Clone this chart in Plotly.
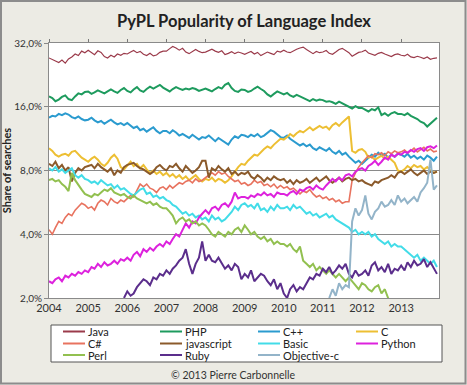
import pandas as pd
import plotly.graph_objects as go

months = pd.date_range("2004-01-01", periods=120, freq="MS")
N = None

java = [
    27.2, 26.8, 26.3, 25.9, 26.6, 25.7, 26.9, 27.5, 28.4, 27.9, 29.3, 28.8,
    29.6, 28.7, 28.2, 29.4, 28.9, 27.6, 27.2, 28.0, 27.5, 28.4, 28.0, 28.6,
    28.4, 29.0, 29.5, 28.8, 29.2, 28.3, 27.9, 28.6, 27.8, 28.1, 28.9, 29.3,
    29.3, 30.1, 30.8, 30.3, 29.6, 30.2, 29.0, 28.5, 29.1, 29.8, 29.2, 28.8,
    29.0, 29.5, 29.9, 29.3, 28.9, 29.4, 28.2, 28.6, 29.1, 28.5, 29.0, 28.7,
    28.3, 28.8, 29.2, 28.4, 28.9, 27.9, 28.5, 29.0, 28.6, 28.2, 29.3, 29.0,
    29.6, 29.0, 28.8, 29.4, 29.9, 30.3, 30.6, 29.8, 29.0, 28.5, 29.2, 28.8,
    29.0, 29.5, 28.6, 28.3, 29.0, 29.8, 30.2, 29.4, 28.8, 27.7, 28.3, 28.9,
    29.1, 29.6, 28.7, 28.3, 28.0, 28.6, 28.9, 28.4, 27.9, 27.6, 28.2, 28.4,
    28.0, 27.8, 28.3, 27.5, 27.3, 27.7, 27.4, 27.0, 27.5, 26.8, 27.1, 27.2,
]
php = [
    17.9, 17.6, 17.0, 17.3, 17.8, 18.1, 17.4, 17.2, 17.9, 18.5, 18.3, 18.8,
    18.9, 18.4, 18.7, 19.1, 18.8, 18.5, 18.9, 19.3, 18.9, 18.6, 19.2, 19.6,
    19.0, 18.7, 19.3, 19.8, 19.1, 18.8, 19.4, 19.9, 19.5, 19.9, 20.3, 19.7,
    19.2, 18.9, 19.4, 19.8, 19.5, 19.2, 19.5, 19.3, 19.6, 19.4, 19.0, 19.3,
    19.5, 19.2, 18.9, 19.4, 19.8, 19.5, 20.3, 20.7, 19.6, 19.0, 18.8, 19.3,
    19.2, 18.8, 19.0, 19.5, 19.9, 19.4, 19.0, 18.3, 17.9, 18.4, 18.9, 18.6,
    18.3, 18.6, 18.1, 17.8, 18.2, 17.9, 17.6, 17.3, 17.0, 17.4, 17.1, 17.3,
    17.2, 16.9, 17.0, 16.8, 16.5, 16.9, 16.6, 16.2, 16.0, 15.7, 16.1, 15.8,
    15.8, 15.5, 15.2, 15.6, 15.4, 15.9, 14.6, 14.9, 14.5, 14.9, 15.1, 14.8,
    14.8, 14.6, 14.9, 14.5, 14.3, 14.0, 13.6, 13.4, 12.9, 13.3, 13.8, 14.2,
]
cpp = [
    14.2, 14.5, 14.4, 14.8, 14.6, 14.9, 14.7, 14.3, 14.1, 14.4, 14.0, 13.8,
    13.9, 14.2, 13.8, 13.5, 13.7, 13.3, 13.6, 13.9, 13.5, 13.2, 13.4, 13.1,
    13.4, 13.0, 12.7, 12.9, 12.4, 12.6, 12.2, 12.5, 12.8, 12.3, 12.0, 12.3,
    12.3, 12.0, 12.4, 12.1, 11.7, 11.9, 11.6, 11.4, 11.8, 11.5, 11.2, 11.5,
    11.4, 11.7, 11.3, 11.0, 11.4, 11.1, 10.8, 10.6, 11.2, 11.6, 11.4, 11.8,
    11.7, 11.5, 11.8, 11.6, 11.9, 11.5, 11.7, 12.0, 12.4, 12.2, 11.8, 11.5,
    11.4, 11.7, 11.3, 11.0, 10.8, 10.5, 10.7, 10.4, 10.6, 10.2, 10.0, 10.3,
    10.1, 9.9, 10.2, 9.8, 9.6, 9.9, 9.5, 9.7, 9.3, 9.0, 8.7, 8.9,
    8.6, 8.9, 9.2, 9.5, 9.3, 9.7, 9.4, 9.6, 9.2, 9.5, 9.3, 9.6,
    9.5, 9.3, 9.6, 9.2, 9.4, 9.1, 9.3, 9.0, 9.4, 9.2, 8.9, 9.3,
]
c_lang = [
    10.2, 9.9, 9.5, 9.3, 9.5, 9.6, 9.4, 9.8, 9.9, 9.5, 9.2, 9.0,
    8.8, 9.1, 9.3, 9.0, 8.6, 8.4, 8.7, 9.2, 9.5, 9.1, 8.3, 8.1,
    8.5, 8.8, 8.4, 8.6, 8.2, 8.5, 8.1, 7.8, 8.0, 7.7, 7.9, 7.6,
    7.8, 7.5, 7.7, 7.4, 7.6, 7.3, 7.5, 7.2, 7.4, 7.6, 7.3, 7.1,
    7.3, 7.2, 7.4, 7.1, 7.3, 7.2, 7.0, 7.2, 7.5, 7.9, 8.3, 8.6,
    8.5, 8.9, 9.2, 9.5, 9.4, 9.8, 10.1, 10.4, 10.2, 10.6, 11.0, 11.3,
    11.2, 11.5, 11.9, 11.6, 12.0, 12.3, 12.1, 12.5, 12.8, 12.4, 12.7, 13.0,
    12.7, 12.9, 12.5, 13.1, 13.4, 13.0, 13.5, 13.9, 14.4, 9.9, 9.7, 10.0,
    10.1, 9.8, 9.2, 9.3, 9.0, 9.2, 9.4, 9.1, 9.3, 9.0, 8.7, 8.0,
    7.9, 8.1, 8.4, 8.2, 8.5, 8.3, 8.4, 8.1, 8.3, 8.0, 7.8, 7.9,
]
csharp = [
    4.2, 4.0, 4.3, 4.6, 4.5, 4.8, 5.0, 4.9, 5.2, 5.4, 5.6, 5.5,
    5.3, 5.4, 5.2, 5.6, 5.8, 5.7, 5.5, 5.9, 5.7, 5.6, 5.8, 5.7,
    5.9, 6.1, 6.0, 6.4, 6.9, 6.7, 6.9, 6.6, 6.5, 6.3, 6.6, 6.7,
    6.5, 6.8, 6.6, 6.8, 7.0, 6.9, 7.1, 7.2, 7.0, 7.3, 7.1, 7.2,
    7.4, 7.6, 7.8, 7.6, 7.9, 7.7, 7.8, 7.5, 7.3, 7.1, 7.2, 6.9,
    7.0, 6.8, 6.9, 7.2, 7.0, 7.1, 6.8, 6.9, 6.7, 6.9, 6.6, 6.8,
    6.6, 6.7, 6.5, 6.6, 6.4, 6.2, 6.4, 6.3, 6.5, 6.2, 6.0, 6.1,
    5.9, 6.0, 5.8, 5.9, 5.7, 5.8, 5.6, 5.7, 5.7, 7.2, 7.8, 8.3,
    8.7, 9.1, 9.4, 9.2, 9.6, 9.5, 9.7, 9.4, 9.8, 9.6, 9.9, 9.7,
    9.8, 10.0, 9.7, 9.9, 10.2, 9.8, 10.0, 10.3, 9.9, 10.1, 9.8, 9.9,
]
javascript = [
    8.6, 8.4, 8.8, 8.2, 8.5, 8.0, 8.3, 7.1, 7.8, 8.2, 8.0, 8.3,
    8.4, 8.5, 8.2, 8.6, 8.3, 8.1, 7.9, 8.2, 7.6, 8.0, 7.8, 8.3,
    8.5, 8.6, 8.7, 8.4, 8.2, 8.1, 7.9, 7.7, 7.9, 8.3, 8.5, 8.2,
    8.0, 8.4, 8.3, 8.6, 8.2, 7.9, 8.4, 8.1, 7.8, 8.0, 8.3, 8.9,
    8.9, 7.4, 8.2, 8.0, 8.4, 8.1, 7.9, 8.2, 7.7, 7.9, 7.6, 7.8,
    7.7, 7.9, 7.5, 7.3, 7.6, 7.4, 7.1, 7.4, 7.2, 7.5, 7.3, 7.2,
    7.3, 7.0, 7.2, 6.9, 7.2, 7.0, 7.1, 7.3, 7.0, 7.2, 7.4, 7.1,
    7.3, 7.5, 7.2, 7.0, 7.2, 7.4, 7.1, 7.3, 7.4, 7.2, 7.3, 7.1,
    7.2, 7.0, 6.9, 6.8, 7.1, 7.0, 7.2, 7.3, 7.4, 7.6, 7.4, 7.8,
    7.9, 7.7, 7.9, 8.1, 7.8, 7.6, 7.8, 8.0, 7.7, 7.9, 7.8, 7.9,
]
basic = [
    8.2, 8.0, 8.3, 7.9, 8.1, 7.8, 8.0, 8.2, 7.6, 7.4, 7.6, 7.3,
    7.2, 7.0, 7.1, 6.9, 7.2, 7.0, 6.8, 6.9, 6.6, 6.8, 6.5, 6.6,
    6.4, 6.2, 6.1, 6.3, 6.5, 6.6, 6.2, 6.3, 6.0, 6.1, 5.9, 6.0,
    5.8, 5.7, 5.5, 5.4, 5.2, 5.0, 5.1, 4.9, 5.0, 4.8, 4.9, 4.7,
    4.8, 4.6, 4.9, 4.7, 4.8, 4.6, 4.7, 4.9, 5.1, 5.4, 5.2, 5.5,
    5.6, 5.4, 5.5, 5.3, 5.6, 5.2, 5.3, 5.1, 5.4, 5.2, 5.5, 5.3,
    5.3, 5.4, 5.2, 5.5, 5.3, 5.4, 5.2, 5.0, 5.1, 4.9, 5.0, 4.8,
    4.9, 5.0, 4.8, 4.9, 4.7, 4.6, 4.5, 4.4, 4.3, 4.1, 4.2, 4.0,
    4.1, 4.0, 4.1, 3.9, 4.0, 3.8, 3.7, 3.6, 3.7, 3.5, 3.6, 3.5,
    3.5, 3.4, 3.3, 3.2, 3.1, 3.2, 3.0, 3.1, 3.0, 2.9, 3.0, 2.8,
]
python = [
    2.4, 2.35, 2.45, 2.5, 2.4, 2.55, 2.5, 2.6, 2.55, 2.65, 2.6, 2.7,
    2.65, 2.8, 2.75, 2.9, 2.8, 2.95, 2.85, 2.9, 3.0, 2.9, 3.05, 3.0,
    3.1, 3.0, 3.2, 3.3, 3.15, 3.4, 3.3, 3.45, 3.35, 3.5, 3.6, 3.5,
    3.7, 3.6, 3.8, 4.0, 3.9, 4.2, 4.5, 4.3, 4.6, 4.5, 4.8, 5.0,
    5.2, 5.0, 5.3, 5.4, 5.2, 5.5, 5.6, 5.4, 5.7, 6.3, 5.9, 6.0,
    6.0, 5.9, 6.1, 6.0, 6.2, 6.1, 6.3, 6.1, 6.2, 6.0, 6.3, 6.2,
    6.2, 6.1, 6.3, 6.4, 6.2, 6.5, 6.4, 6.6, 6.7, 6.5, 6.8, 6.6,
    6.5, 6.8, 7.0, 7.3, 7.1, 7.4, 7.2, 7.6, 7.7, 7.5, 7.9, 8.1,
    8.2, 8.0, 8.4, 8.6, 8.9, 8.5, 8.8, 9.2, 9.0, 9.5, 9.3, 9.6,
    9.5, 9.8, 9.7, 10.0, 9.8, 10.1, 10.2, 9.9, 10.3, 10.4, 10.2, 10.5,
]
perl = [
    7.2, 7.3, 7.1, 7.2, 6.9, 6.7, 6.4, 7.8, 7.2, 6.8, 6.5, 6.2,
    6.1, 6.0, 6.2, 6.1, 6.3, 6.5, 6.4, 6.6, 6.3, 6.2, 6.1, 6.2,
    6.0, 5.9, 6.1, 5.9, 5.8, 5.7, 5.6, 5.7, 5.5, 5.6, 5.4, 5.3,
    5.3, 5.1, 4.9, 4.5, 4.7, 4.8, 4.6, 4.7, 4.5, 4.6, 4.4, 4.5,
    4.4, 4.2, 4.0, 3.9, 4.1, 4.0, 3.9, 4.1, 4.0, 4.2, 4.3, 4.1,
    4.4, 4.2, 4.0, 4.1, 3.9, 3.8, 3.9, 3.7, 3.8, 3.6, 3.7, 3.6,
    3.6, 3.5, 3.6, 3.4, 3.3, 3.5, 3.0, 2.9, 2.8, 2.9, 2.7, 2.8,
    2.7, 2.6, 2.7, 2.6, 2.5, 2.6, 2.5, 2.4, 2.5, 2.4, 2.3, 2.2,
    2.35, 2.3, 2.2, 2.15, 2.25, 2.3, 2.1, 2.2, 2.0, 1.9, N, N,
    N, N, N, N, N, N, N, N, N, N, N, N,
]
ruby = [
    N, N, N, N, N, N, N, N, N, N, N, N,
    N, N, N, N, N, N, N, N, N, N, N, 2.0,
    2.15, 2.05, 2.1, 2.25, 2.35, 2.45, 2.4, 2.3, 2.5, 2.45, 2.6, 2.55,
    2.7, 2.6, 2.75, 2.85, 3.0, 3.1, 3.4, 2.9, 2.6, 2.9, 3.1, 3.7,
    3.0, 3.2, 3.0, 2.95, 3.1, 2.9, 2.75, 2.85, 2.7, 2.9, 2.8, 2.45,
    2.6, 2.5, 2.7, 2.4, 2.5, 2.6, 2.55, 2.4, 2.3, 2.45, 2.2, 2.35,
    2.1, 2.0, 2.2, 2.3, 2.15, 2.25, 2.2, 2.35, 2.5, 2.45, 2.6, 2.55,
    2.75, 2.65, 2.8, 2.6, 2.7, 2.85, 2.75, 2.9, 2.6, 2.5, 2.7, 2.55,
    2.6, 2.7, 2.55, 2.85, 2.95, 2.7, 2.8, 2.65, 2.9, 2.6, 2.75, 2.7,
    2.85, 2.7, 2.95, 2.8, 3.0, 2.85, 2.9, 3.05, 2.8, 2.95, 2.75, 2.6,
]
objc = [N] * 84 + [
    N, N, 2.0, 2.2, 2.05, 2.35, 2.2, 2.3, 2.25, 4.6, 5.3, 4.9,
    5.2, 6.1, 5.0, 4.7, 5.1, 5.3, 5.7, 5.4, 5.5, 5.8, 5.5, 6.1,
    5.7, 5.9, 5.6, 5.8, 6.0, 5.7, 6.3, 6.6, 7.0, 9.0, 6.5, 6.8,
]

names = ["Java", "PHP", "C++", "C", "C#", "javascript", "Basic", "Python",
         "Perl", "Ruby", "Objective-c"]
series = [java, php, cpp, c_lang, csharp, javascript, basic, python, perl, ruby, objc]
colors = ["#9B3B4B", "#1E9B5E", "#2B9BCF", "#EDBF33", "#E8735F", "#8B5A2B",
          "#42DCE8", "#DD22DD", "#92C050", "#5B2E8C", "#93B4C9"]
widths = [1.2, 2, 2, 2, 1.6, 2, 2, 2, 2, 2, 2]

y_ticks = [2, 4, 8, 16, 32]
y_ticktext = ["2,0%", "4,0%", "8,0%", "16,0%", "32,0%"]
year_ticks = [f"{y}-01-01" for y in range(2004, 2014)]
year_text = [str(y) for y in range(2004, 2014)]

fig = go.Figure()
for name, vals, col, w in zip(names, series, colors, widths):
    fig.add_trace(go.Scatter(x=months, y=vals, name=name, mode="lines",
                             line=dict(color=col, width=w), connectgaps=False,
                             showlegend=False))
# invisible trace to activate the top tick axis
fig.add_trace(go.Scatter(x=[months[0]], y=[None], xaxis="x2", showlegend=False,
                         hoverinfo="skip"))

FONT = "Lato, 'Open Sans', sans-serif"
W, H = 467, 385
L, R, T, B = 49, 28, 43, 87
pw, ph = W - L - R, H - T - B


def px(xp):
    return (xp - L) / pw


def py(yp):
    return (H - B - yp) / ph


fig.update_layout(
    width=W, height=H,
    margin=dict(l=L, r=R, t=T, b=B, autoexpand=False),
    paper_bgcolor="#ECEBE4",
    plot_bgcolor="#FFFFFF",
    font=dict(family=FONT, size=11, color="#333333"),
    title=dict(text="<b>PyPL Popularity of Language Index</b>", x=0.5, xanchor="center",
               xref="paper", y=1 - 21 / H, yanchor="middle",
               font=dict(size=16.5, color="#222222", family=FONT)),
    showlegend=False,
    xaxis=dict(type="date", range=["2004-01-01", "2013-12-20"],
               tickvals=year_ticks, ticktext=year_text, ticks="",
               showgrid=False, showline=True, linecolor="#8a8a8a", linewidth=1,
               mirror=True, zeroline=False, automargin=False,
               tickfont=dict(size=11, color="#333333")),
    xaxis2=dict(type="date", range=["2004-01-01", "2013-12-20"], overlaying="x",
                side="top", tickvals=year_ticks, showticklabels=False,
                ticks="outside", ticklen=3, tickcolor="#777777",
                showgrid=False, showline=False, zeroline=False),
    yaxis=dict(type="log", range=[0.30103, 1.50515], tickvals=y_ticks,
               ticktext=y_ticktext, ticks="outside", ticklen=4, tickcolor="#888888",
               showgrid=True, gridcolor="#8a8a8a", gridwidth=1,
               showline=True, linecolor="#8a8a8a", linewidth=1, mirror=True,
               zeroline=False, automargin=False,
               tickfont=dict(size=10, color="#333333"),
               title=dict(text="<b>Share of searches</b>", standoff=5,
                          font=dict(size=11, color="#222222"))),
)

# legend box drawn in pixel-derived paper coordinates
box_l, box_r, box_t, box_b = 51, 442, 325, 362
fig.add_shape(type="rect", xref="paper", yref="paper",
              x0=px(box_l), x1=px(box_r), y0=py(box_b), y1=py(box_t),
              line=dict(color="#555555", width=1), fillcolor="#FFFFFF", layer="above")
col_x = [63, 160, 258, 356]
row_y = [331.5, 343.5, 355]
for i, (name, col) in enumerate(zip(names, colors)):
    r, c = divmod(i, 4)
    x0, yy = col_x[c], row_y[r]
    fig.add_shape(type="line", xref="paper", yref="paper",
                  x0=px(x0), x1=px(x0 + 22), y0=py(yy), y1=py(yy),
                  line=dict(color=col, width=2), layer="above")
    fig.add_annotation(text=name, xref="paper", yref="paper", x=px(x0 + 23), y=py(yy),
                       xanchor="left", yanchor="middle", showarrow=False,
                       font=dict(size=11, color="#222222", family=FONT))

fig.add_annotation(text="© 2013 Pierre Carbonnelle", xref="paper", yref="paper",
                   x=px(233), y=py(375), xanchor="center", yanchor="middle",
                   showarrow=False, font=dict(size=10.5, color="#333333", family=FONT))
fig.add_shape(type="rect", xref="paper", yref="paper",
              x0=px(1), x1=px(465.5), y0=py(383.5), y1=py(1),
              line=dict(color="#8c8c8c", width=2), fillcolor="rgba(0,0,0,0)", layer="below")

fig.write_html("out.html", config={"displayModeBar": False},
               post_script="document.body.style.margin='0';document.body.style.overflow='hidden';")
